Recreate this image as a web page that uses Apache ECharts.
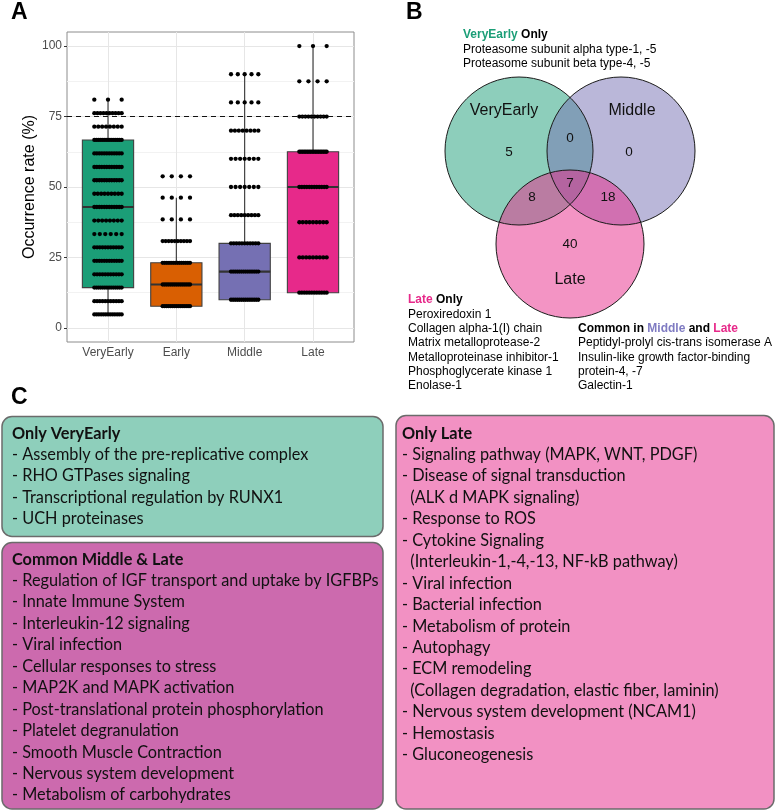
<!DOCTYPE html>
<html><head><meta charset="utf-8">
<script src="https://cdn.jsdelivr.net/npm/echarts@6/dist/echarts.min.js"></script>
<style>html,body{margin:0;padding:0;background:#fff}#c{width:777px;height:811px}</style>
</head><body><div id="c"></div><script>
// ---------- Panel A data ----------
const categories = ['VeryEarly', 'Early', 'Middle', 'Late'];
const boxColors = ['#1b9e77', '#d95f02', '#7570b3', '#e7298a'];
// [lower whisker, Q1, median, Q3, upper whisker]
const boxVeryEarly = [4.8, 14.3, 42.9, 66.7, 81.0];
const boxEarly = [7.7, 7.7, 15.4, 23.1, 46.2];
const boxMiddle = [10, 10, 20, 30, 90];
const boxLate = [12.5, 12.5, 50, 62.5, 100];
// observed occurrence-rate levels and number of proteins at each level
const veryEarlyLevels = [4.8, 9.5, 14.3, 19.0, 23.8, 28.6, 33.3, 38.1, 42.9, 47.6, 52.4, 57.1, 61.9, 66.7, 71.4, 76.2, 81.0];
const veryEarlyCounts = [13, 11, 14, 11, 12, 11, 6, 8, 12, 9, 12, 12, 12, 15, 8, 10, 3];
const earlyLevels = [7.7, 15.4, 23.1, 30.8, 38.5, 46.2, 53.8];
const earlyCounts = [15, 15, 14, 10, 4, 4, 4];
const middleLevels = [10, 20, 30, 40, 50, 60, 70, 80, 90];
const middleCounts = [14, 14, 11, 9, 7, 7, 8, 5, 5];
const lateLevels = [12.5, 25, 37.5, 50, 62.5, 75, 87.5, 100];
const lateCounts = [12, 9, 9, 12, 18, 10, 4, 3];
const yTicks = [0, 25, 50, 75, 100];
const yMinor = [12.5, 37.5, 62.5, 87.5];
const thresholdLine = 75;

// ---------- Panel B data ----------
const vennSets = ['VeryEarly', 'Middle', 'Late'];
const vennSetColors = ['rgba(27,158,119,0.5)', 'rgba(117,112,179,0.5)', 'rgba(231,41,138,0.5)'];
// regions: VE only, VE∩Mid, Mid only, all three, VE∩Late, Mid∩Late, Late only
const vennCounts = [5, 0, 0, 7, 8, 18, 40];
const veryEarlyOnlyProteins = ['Proteasome subunit alpha type-1, -5', 'Proteasome subunit beta type-4, -5'];
const lateOnlyProteins = ['Peroxiredoxin 1', 'Collagen alpha-1(I) chain', 'Matrix metalloprotease-2', 'Metalloproteinase inhibitor-1', 'Phosphoglycerate kinase 1', 'Enolase-1'];
const midLateProteins = ['Peptidyl-prolyl cis-trans isomerase A', 'Insulin-like growth factor-binding', 'protein-4, -7', 'Galectin-1'];

// ---------- Panel C data ----------
const onlyVeryEarlyTitle = 'Only VeryEarly';
const onlyVeryEarlyItems = ['- Assembly of the pre-replicative complex', '- RHO GTPases signaling', '- Transcriptional regulation by RUNX1', '- UCH proteinases'];
const commonTitle = 'Common Middle & Late';
const commonItems = ['- Regulation of IGF transport and uptake by IGFBPs', '- Innate Immune System', '- Interleukin-12 signaling', '- Viral infection', '- Cellular responses to stress', '- MAP2K and MAPK activation', '- Post-translational protein phosphorylation', '- Platelet degranulation', '- Smooth Muscle Contraction', '- Nervous system development', '- Metabolism of carbohydrates'];
const onlyLateTitle = 'Only Late';
const onlyLateItems = ['- Signaling pathway (MAPK, WNT, PDGF)', '- Disease of signal transduction', '  (ALK d MAPK signaling)', '- Response to ROS', '- Cytokine Signaling', '  (Interleukin-1,-4,-13, NF-kB pathway)', '- Viral infection', '- Bacterial infection', '- Metabolism of protein', '- Autophagy', '- ECM remodeling', '  (Collagen degradation, elastic fiber, laminin)', '- Nervous system development (NCAM1)', '- Hemostasis', '- Gluconeogenesis'];

// ---------- build ----------
const allBoxes = [boxVeryEarly, boxEarly, boxMiddle, boxLate];
const boxData = allBoxes.map((s, i) => [i + 1].concat(s));
const groups = [[veryEarlyLevels, veryEarlyCounts], [earlyLevels, earlyCounts], [middleLevels, middleCounts], [lateLevels, lateCounts]];
const JIT = 0.2;
const points = [];
groups.forEach((g, gi) => {
  g[0].forEach((lv, li) => {
    const n = g[1][li];
    for (let k = 0; k < n; k++) {
      const off = n === 1 ? 0 : -JIT + 2 * JIT * k / (n - 1);
      points.push([gi + 1 + off, lv]);
    }
  });
});

const AF = 'Liberation Sans, Arial, sans-serif';
const CF = 'Lato, sans-serif';
const graphics = [];
function txt(x, y, text, opt) {
  opt = opt || {};
  graphics.push({
    type: 'text', x: x, y: y, z: 10, silent: true,
    style: Object.assign({
      text: text, fill: '#000', fontFamily: AF, fontSize: 12,
      align: 'left', verticalAlign: 'middle'
    }, opt)
  });
}
// panel labels
txt(11, 13, 'A', {fontSize: 23, fontWeight: 'bold'});
txt(406, 13, 'B', {fontSize: 23, fontWeight: 'bold'});
txt(11, 398, 'C', {fontSize: 23, fontWeight: 'bold'});

// Venn
const vc = [[519, 151], [621, 151], [570, 244]];
const vr = 74;
vc.forEach((c, i) => graphics.push({type: 'circle', z: 5, silent: true, shape: {cx: c[0], cy: c[1], r: vr}, style: {fill: vennSetColors[i], stroke: null}}));
vc.forEach((c) => graphics.push({type: 'circle', z: 6, silent: true, shape: {cx: c[0], cy: c[1], r: vr}, style: {fill: 'none', stroke: '#1a1a1a', lineWidth: 1}}));
const vennLabelPos = [[504, 111], [632, 111], [570, 280]];
vennSets.forEach((s, i) => txt(vennLabelPos[i][0], vennLabelPos[i][1], s, {fontSize: 16, align: 'center', fill: '#111'}));
const vennCountPos = [[509, 152], [570, 138], [629, 152], [570, 183], [532, 197], [608, 197], [570, 244]];
vennCounts.forEach((v, i) => txt(vennCountPos[i][0], vennCountPos[i][1], String(v), {fontSize: 13.5, align: 'center', fill: '#111'}));

const richB = {
  g: {fill: '#1b9e77', fontWeight: 'bold', fontSize: 12, fontFamily: AF},
  m: {fill: '#7f7bc2', fontWeight: 'bold', fontSize: 12, fontFamily: AF},
  p: {fill: '#e7298a', fontWeight: 'bold', fontSize: 12, fontFamily: AF},
  k: {fill: '#000', fontWeight: 'bold', fontSize: 12, fontFamily: AF}
};
txt(463, 35, '{g|VeryEarly} {k|Only}', {rich: richB});
veryEarlyOnlyProteins.forEach((t, i) => txt(463, 49.2 + i * 14.1, t));
txt(408, 300, '{p|Late} {k|Only}', {rich: richB});
lateOnlyProteins.forEach((t, i) => txt(408, 314.3 + i * 14.35, t));
txt(578, 328.3, '{k|Common in} {m|Middle} {k|and} {p|Late}', {rich: richB});
midLateProteins.forEach((t, i) => txt(578, 343 + i * 14.35, t));

// Panel C boxes
function box(x, y, w, h, fill) {
  graphics.push({type: 'rect', z: 4, silent: true, shape: {x: x, y: y, width: w, height: h, r: 10}, style: {fill: fill, stroke: '#6b6b6b', lineWidth: 1.5}});
}
box(2, 416.5, 381, 120, '#8ecfbb');
box(2, 542.5, 381, 266.5, '#cc6aae');
box(396, 415.5, 378, 393.5, '#f291c3');
const CFS = 16.3, LH = 21.47;
function block(x, yTitle, title, items) {
  txt(x, yTitle, title, {fontFamily: CF, fontSize: CFS, fontWeight: 'bold', fill: '#111'});
  items.forEach((t, i) => txt(x, yTitle + 21 + i * LH, t, {fontFamily: CF, fontSize: CFS, fill: '#111'}));
}
block(12, 433.7, onlyVeryEarlyTitle, onlyVeryEarlyItems);
block(12, 559.5, commonTitle, commonItems);
block(402, 433.5, onlyLateTitle, onlyLateItems);

const chart = echarts.init(document.getElementById('c'), null, {renderer: 'canvas', width: 777, height: 811});
const gridLineData = []
  .concat(yMinor.map(v => ({yAxis: v, lineStyle: {color: '#f2f2f2', width: 1, type: 'solid'}})))
  .concat(yTicks.map(v => ({yAxis: v, lineStyle: {color: '#e6e6e6', width: 1, type: 'solid'}})))
  .concat(categories.map((c, i) => ({xAxis: i + 1, lineStyle: {color: '#e6e6e6', width: 1, type: 'solid'}})));

chart.setOption({
  animation: false,
  backgroundColor: '#fff',
  grid: {left: 67, top: 32, width: 287, height: 310, show: true, borderColor: '#8c8c8c', borderWidth: 1, backgroundColor: 'transparent'},
  xAxis: {
    type: 'value', min: 0.4, max: 4.6,
    axisLine: {show: false},
    axisTick: {show: true, customValues: [1, 2, 3, 4], length: 3, lineStyle: {color: '#333'}},
    axisLabel: {customValues: [1, 2, 3, 4], formatter: v => categories[Math.round(v) - 1], color: '#4d4d4d', fontSize: 12, fontFamily: AF, margin: 5},
    splitLine: {show: false}
  },
  yAxis: {
    type: 'value', min: -5, max: 105,
    name: 'Occurrence rate (%)', nameLocation: 'middle', nameGap: 28,
    nameTextStyle: {fontSize: 16, color: '#000', fontFamily: AF},
    axisLine: {show: false},
    axisTick: {show: true, customValues: yTicks, length: 3, lineStyle: {color: '#333'}},
    axisLabel: {customValues: yTicks, color: '#4d4d4d', fontSize: 12, fontFamily: AF, margin: 5},
    splitLine: {show: false}
  },
  graphic: {elements: graphics},
  series: [
    {
      type: 'line', data: [], z: 1, silent: true,
      markLine: {z: 1, silent: true, symbol: 'none', label: {show: false}, data: gridLineData}
    },
    {
      type: 'custom', z: 2, silent: true, data: boxData,
      encode: {x: 0, y: [1, 2, 3, 4, 5]},
      renderItem: function (params, api) {
        const x = api.value(0), i = params.dataIndex;
        const hw = 0.375;
        const lo = api.coord([x, api.value(1)]), q1 = api.coord([x, api.value(2)]);
        const md = api.coord([x, api.value(3)]), q3 = api.coord([x, api.value(4)]);
        const hi = api.coord([x, api.value(5)]);
        const l = api.coord([x - hw, 0])[0], r = api.coord([x + hw, 0])[0];
        const ls = {stroke: '#333', lineWidth: 1.1};
        return {type: 'group', children: [
          {type: 'line', shape: {x1: lo[0], y1: lo[1], x2: q1[0], y2: q1[1]}, style: ls},
          {type: 'line', shape: {x1: q3[0], y1: q3[1], x2: hi[0], y2: hi[1]}, style: ls},
          {type: 'rect', shape: {x: l, y: q3[1], width: r - l, height: q1[1] - q3[1]}, style: {fill: boxColors[i], stroke: '#404040', lineWidth: 1.1}},
          {type: 'line', shape: {x1: l, y1: md[1], x2: r, y2: md[1]}, style: {stroke: '#333', lineWidth: 2.2}}
        ]};
      }
    },
    {
      type: 'scatter', z: 3, silent: true, data: points, symbolSize: 4.3,
      itemStyle: {color: '#000', opacity: 1},
      markLine: {z: 4, silent: true, symbol: 'none', label: {show: false},
        data: [{yAxis: thresholdLine, lineStyle: {color: '#111', width: 1, type: [5, 4]}}]}
    }
  ]
});
</script></body></html>
